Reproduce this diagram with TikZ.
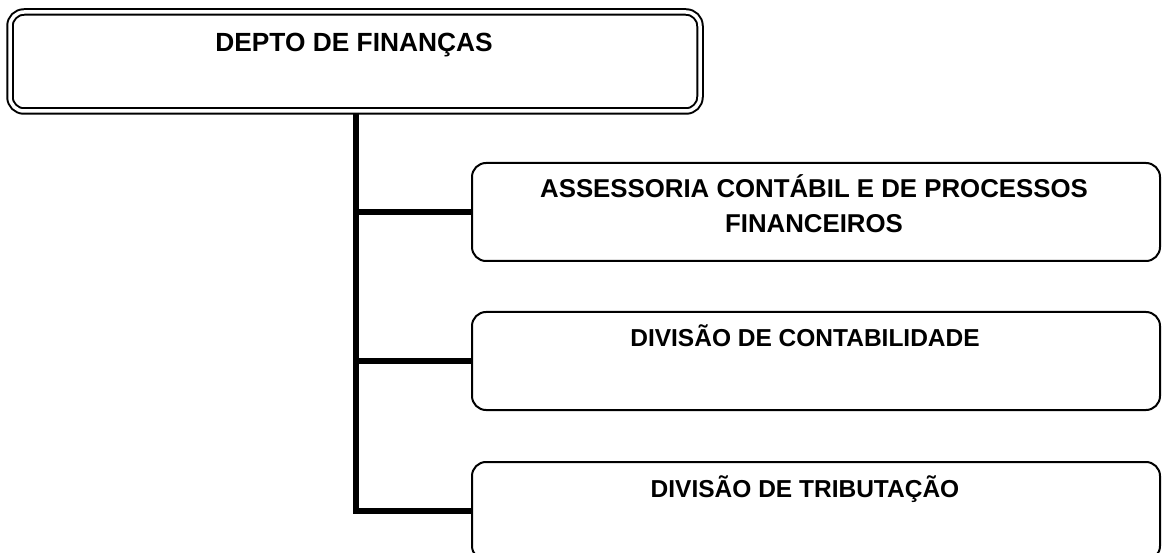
\documentclass[tikz,border=0pt]{standalone}
\usepackage{fontspec}
\setmainfont{Liberation Sans}
\begin{document}
\begin{tikzpicture}[x=1pt,y=-1pt,
  topbox/.style={draw, double, line width=2pt, double distance=3.5pt, rounded corners=14pt, minimum width=690pt, minimum height=99pt, inner sep=0pt},
  subbox/.style={draw, line width=2pt, rounded corners=14pt, minimum width=688pt, minimum height=98pt, inner sep=0pt},
  lbl/.style={font=\bfseries, align=center, anchor=base, inner sep=0pt},
  conn/.style={line width=6pt}]
\useasboundingbox (0,0) rectangle (1165,553);
\node[topbox] (top) at (355,61.5) {};
\node[lbl, font=\fontsize{26.3}{35}\selectfont\bfseries] (toplbl) at (354,52) {DEPTO DE FINANÇAS};
\node[subbox] (b1) at (816,212) {};
\node[subbox] (b2) at (816,361) {};
\node[subbox] (b3) at (816,511) {};
\node[lbl, font=\fontsize{25.8}{35}\selectfont\bfseries] (l1) at (814,233) {ASSESSORIA CONTÁBIL E DE PROCESSOS\\FINANCEIROS};
\node[lbl, font=\fontsize{24.5}{35}\selectfont\bfseries] (l2) at (805,347) {DIVISÃO DE CONTABILIDADE};
\node[lbl, font=\fontsize{24.5}{35}\selectfont\bfseries] (l3) at (805,497) {DIVISÃO DE TRIBUTAÇÃO};
\coordinate (trunk) at (356,113);
\draw[conn] (trunk) |- (b3.west);
\draw[conn] (b1.west) -- (b1.west -| trunk);
\draw[conn] (b2.west) -- (b2.west -| trunk);
\end{tikzpicture}
\end{document}
